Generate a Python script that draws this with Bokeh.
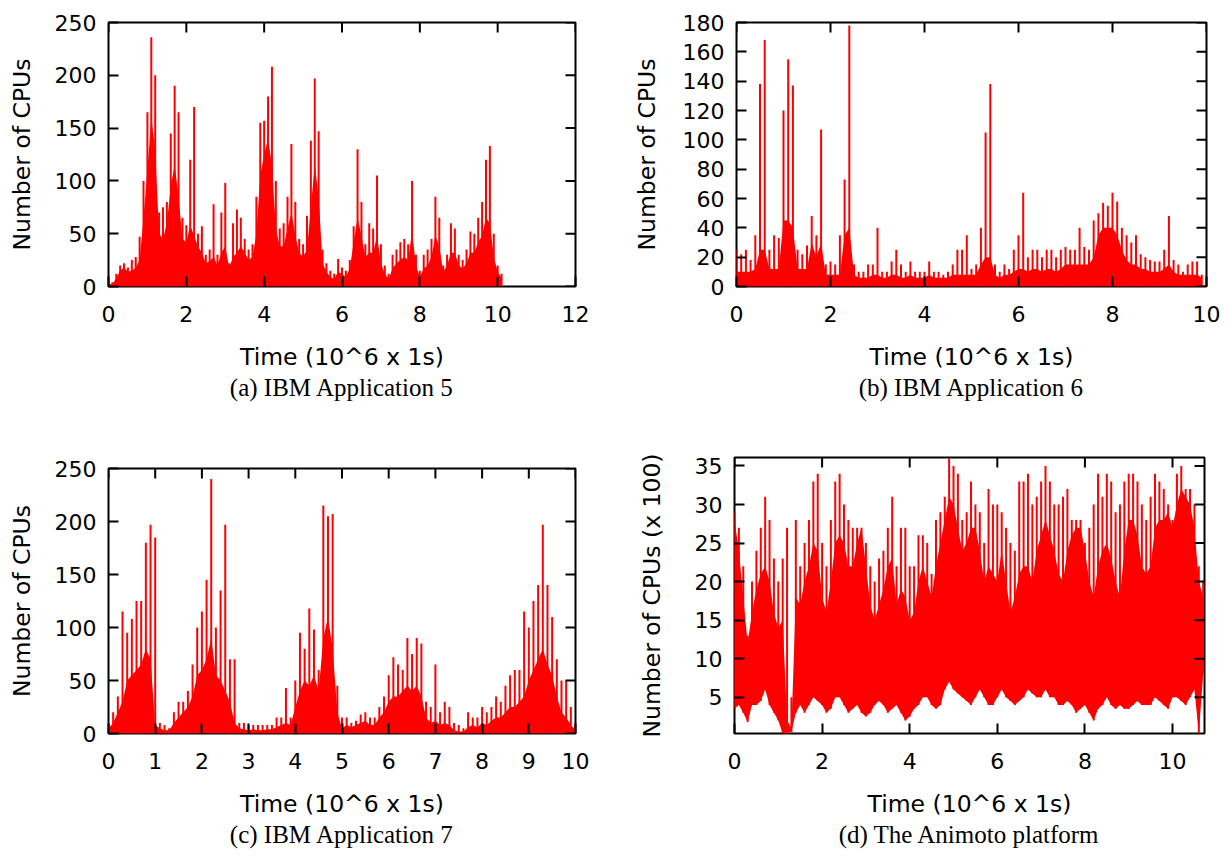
import math
from bokeh.plotting import figure
from bokeh.models import FixedTicker, Range1d, Title, ColumnDataSource
from bokeh.layouts import column, row
from bokeh.embed import file_html
from bokeh.resources import INLINE

RED = "#ff0000"
SANS = "DejaVu Sans"
SERIF = "Liberation Serif"

# ---------------- data ----------------
# (a) IBM Application 5 : time step 0.1 (x 10^6 s), 0.0 .. 10.1
time_a = [round(i * 0.1, 1) for i in range(102)]
peak_a = [6, 4, 12, 20, 22, 18, 25, 28, 47, 100,
          165, 236, 200, 70, 75, 80, 145, 190, 165, 65,
          58, 120, 170, 50, 57, 30, 35, 78, 30, 70,
          98, 22, 60, 73, 65, 45, 35, 40, 85, 155,
          157, 180, 208, 100, 55, 60, 85, 135, 80, 45,
          40, 67, 138, 197, 147, 35, 22, 15, 12, 26,
          18, 15, 25, 57, 130, 80, 40, 60, 55, 105,
          40, 20, 12, 30, 35, 42, 45, 40, 100, 30,
          15, 30, 35, 45, 85, 65, 20, 30, 60, 55,
          30, 25, 35, 52, 50, 65, 80, 120, 133, 50,
          20, 12]
body_a = [3, 2, 8, 15, 18, 14, 15, 18, 25, 65,
          110, 160, 130, 50, 45, 60, 95, 115, 85, 45,
          42, 58, 48, 38, 32, 22, 24, 28, 20, 32,
          38, 18, 28, 32, 38, 32, 25, 28, 50, 105,
          125, 140, 115, 55, 38, 38, 55, 70, 48, 32,
          28, 35, 75, 115, 85, 22, 14, 9, 7, 14,
          12, 9, 17, 42, 65, 48, 28, 32, 32, 48,
          22, 12, 7, 17, 22, 25, 28, 25, 52, 20,
          9, 17, 20, 28, 48, 38, 14, 20, 32, 32,
          20, 17, 22, 32, 32, 42, 48, 65, 60, 28,
          14, 8]

# (b) IBM Application 6 : 0.0 .. 9.9
time_b = [round(i * 0.1, 1) for i in range(100)]
peak_b = [25, 22, 25, 18, 35, 138, 168, 25, 35, 33,
          120, 155, 137, 25, 22, 28, 48, 35, 107, 15,
          17, 15, 35, 73, 178, 15, 10, 10, 15, 15,
          40, 10, 10, 17, 25, 15, 10, 17, 10, 10,
          10, 17, 10, 10, 8, 10, 15, 25, 25, 35,
          12, 15, 40, 105, 138, 15, 10, 15, 12, 25,
          35, 64, 20, 25, 25, 20, 25, 25, 20, 25,
          27, 25, 25, 40, 27, 25, 45, 50, 57, 55,
          64, 58, 40, 35, 30, 35, 22, 20, 18, 17,
          17, 25, 48, 18, 15, 10, 15, 17, 17, 8]
body_b = [10, 10, 10, 10, 12, 25, 25, 12, 12, 12,
          45, 45, 40, 12, 12, 12, 30, 20, 30, 8,
          8, 8, 8, 35, 40, 8, 6, 6, 6, 8,
          8, 6, 6, 8, 8, 6, 6, 8, 6, 6,
          6, 8, 6, 6, 6, 6, 8, 8, 8, 8,
          8, 8, 15, 20, 20, 8, 6, 8, 8, 10,
          12, 12, 10, 12, 12, 10, 12, 12, 10, 12,
          15, 15, 15, 15, 15, 15, 20, 35, 40, 40,
          40, 35, 25, 18, 15, 15, 12, 12, 10, 10,
          10, 12, 15, 10, 8, 8, 8, 8, 8, 6]

# (c) IBM Application 7 : 0.0 .. 10.0
time_c = [round(i * 0.1, 1) for i in range(101)]
peak_c = [10, 20, 35, 115, 95, 108, 125, 125, 180, 197,
          185, 10, 8, 5, 20, 30, 30, 40, 65, 100,
          115, 145, 240, 100, 135, 197, 70, 70, 10, 10,
          8, 8, 8, 8, 8, 8, 15, 15, 43, 15,
          50, 95, 80, 118, 98, 60, 215, 205, 207, 45,
          15, 15, 10, 12, 18, 20, 15, 15, 25, 35,
          55, 72, 65, 60, 90, 75, 90, 85, 30, 25,
          65, 20, 30, 25, 10, 8, 5, 20, 15, 15,
          25, 20, 25, 35, 30, 45, 55, 60, 60, 115,
          100, 125, 140, 197, 140, 110, 70, 50, 50, 25,
          10]
body_c = [5, 10, 20, 30, 50, 55, 60, 65, 80, 70,
          8, 5, 3, 3, 10, 15, 20, 25, 35, 55,
          60, 70, 90, 55, 50, 40, 30, 10, 5, 4,
          3, 4, 3, 3, 4, 4, 6, 8, 10, 8,
          25, 40, 50, 45, 55, 40, 90, 110, 80, 20,
          5, 8, 6, 8, 10, 12, 8, 8, 15, 20,
          30, 35, 35, 40, 45, 40, 45, 35, 15, 10,
          12, 8, 10, 8, 3, 2, 2, 6, 8, 6,
          10, 8, 12, 15, 15, 20, 25, 25, 30, 35,
          50, 60, 70, 80, 65, 55, 35, 20, 15, 8,
          3]

# (d) The Animoto platform (CPUs x 100) : 0.0 .. 10.7
time_d = [round(i * 0.1, 1) for i in range(108)]
peak_d = [29, 27, 22, 13, 20, 24, 27, 31, 28, 23,
          20, 23, 27, 5, 28, 22, 25, 28, 33, 34,
          25, 22, 28, 33, 34, 30, 28, 27, 27, 27,
          25, 22, 20, 23, 24, 27, 31, 22, 27, 27,
          22, 22, 26, 26, 25, 21, 28, 29, 31, 36,
          35, 34, 28, 29, 33, 30, 29, 25, 32, 30,
          30, 29, 27, 25, 24, 33, 33, 34, 30, 31,
          33, 35, 33, 30, 30, 31, 32, 28, 28, 28,
          25, 27, 30, 34, 31, 34, 33, 29, 30, 33,
          34, 34, 33, 30, 28, 31, 34, 33, 32, 30,
          28, 34, 35, 32, 32, 30, 22, 20]
mid_d = [28, 24, 18, 12, 16, 19, 21, 22, 20, 16,
         14, 15, 2, 1, 18, 17, 20, 22, 25, 24,
         18, 16, 20, 25, 26, 25, 22, 22, 25, 27,
         22, 17, 15, 17, 19, 22, 23, 17, 19, 18,
         15, 16, 20, 22, 20, 18, 22, 25, 28, 31,
         30, 27, 24, 25, 27, 27, 24, 20, 22, 21,
         20, 24, 20, 16, 18, 21, 22, 22, 20, 24,
         26, 28, 26, 24, 21, 20, 24, 26, 27, 27,
         24, 20, 18, 22, 24, 25, 23, 20, 18, 24,
         28, 28, 26, 22, 21, 22, 27, 28, 28, 29,
         27, 30, 32, 31, 30, 27, 20, 18]
low_d = [3.5, 4, 3, 1.8, 4, 4, 4.5, 6, 4, 3,
         2, 0.3, 0.3, 0.5, 3, 4, 3, 4, 5, 4.5,
         4, 3, 3.5, 5, 5, 4, 3, 3.5, 4, 3,
         2.5, 3, 4, 4.5, 4, 3, 3.5, 4, 3, 2,
         2.5, 3.5, 4, 5, 5, 4, 3.5, 4, 6, 7,
         6, 5.5, 5, 4.5, 4, 5, 6, 5, 4, 4,
         5, 6, 5, 4.5, 4, 4.5, 5, 6, 5.5, 5,
         5, 6, 5, 5, 4, 4, 4.5, 4, 3, 3.5,
         4, 3, 2, 3.5, 4, 5, 4, 3.5, 4, 3.5,
         3.5, 4, 4.5, 4, 4, 4, 5, 4.5, 4, 3.5,
         5, 5, 4.5, 4, 5, 6, 0.3, 8]

# ticks
xt_a = [0, 2, 4, 6, 8, 10, 12]
yt_a = [0, 50, 100, 150, 200, 250]
xt_b = [0, 2, 4, 6, 8, 10]
yt_b = [0, 20, 40, 60, 80, 100, 120, 140, 160, 180]
xt_c = [0, 1, 2, 3, 4, 5, 6, 7, 8, 9, 10]
yt_c = [0, 50, 100, 150, 200, 250]
xt_d = [0, 2, 4, 6, 8, 10]
yt_d = [5, 10, 15, 20, 25, 30, 35]

XLABEL = "Time (10^6 x 1s)"
TICK_PX = "22px"
LABEL_PX = "23.5px"


def style_axis(ax, ticks):
    ax.ticker = FixedTicker(ticks=ticks)
    ax.axis_line_color = None
    ax.major_tick_in = 10
    ax.major_tick_out = 0
    ax.major_tick_line_width = 2
    ax.major_tick_line_color = "black"
    ax.minor_tick_line_color = None
    ax.major_label_text_font = SANS
    ax.major_label_text_font_size = TICK_PX
    ax.major_label_text_color = "black"
    ax.axis_label_text_font = SANS
    ax.axis_label_text_font_size = LABEL_PX
    ax.axis_label_text_font_style = "normal"
    ax.axis_label_text_color = "black"


def panel(w, h, ml, mr, mt, mb, xr, yr, xt, yt, ylabel, ylab_standoff, caption,
          x, peak, body, low):
    p = figure(width=w, height=h, x_range=Range1d(*xr), y_range=Range1d(*yr),
               output_backend="svg", toolbar_location=None, title=None,
               min_border_left=ml, min_border_right=mr,
               min_border_top=mt, min_border_bottom=mb)
    p.grid.visible = False
    p.outline_line_color = "black"
    p.outline_line_width = 2
    p.background_fill_color = "white"
    p.border_fill_color = "white"

    src = ColumnDataSource(dict(x=x, peak=peak, body=body, low=low))
    p.varea(x="x", y1="low", y2="body", source=src, fill_color=RED)
    p.segment(x0="x", y0="low", x1="x", y1="peak", source=src,
              line_color=RED, line_width=2)

    # mirrored inward ticks on the top and right edges of the frame
    p.ray(x=xt, y=[yr[1]] * len(xt), length=10, length_units="screen",
          angle=-math.pi / 2, line_color="black", line_width=2)
    p.ray(x=[xr[1]] * len(yt), y=yt, length=10, length_units="screen",
          angle=math.pi, line_color="black", line_width=2)

    style_axis(p.xaxis[0], xt)
    style_axis(p.yaxis[0], yt)
    p.xaxis[0].axis_label = XLABEL
    p.yaxis[0].axis_label = ylabel
    p.xaxis[0].major_label_standoff = 19
    p.xaxis[0].axis_label_standoff = 18
    p.yaxis[0].major_label_standoff = 12
    p.yaxis[0].axis_label_standoff = ylab_standoff

    p.add_layout(Title(text=caption, align="center", text_font=SERIF,
                       text_font_size="25px", text_font_style="normal",
                       text_color="black", standoff=-4), "below")
    return p


pa = panel(623, 448, 108, 48, 22, 162, (0, 12), (0, 250), xt_a, yt_a,
           "Number of CPUs", 16, "(a) IBM Application 5",
           time_a, peak_a, body_a, [0] * len(time_a))
pb = panel(608, 448, 113, 25, 22, 162, (0, 10), (0, 180), xt_b, yt_b,
           "Number of CPUs", 19, "(b) IBM Application 6",
           time_b, peak_b, body_b, [0] * len(time_b))
pc = panel(623, 408, 108, 48, 20, 123, (0, 10), (0, 250), xt_c, yt_c,
           "Number of CPUs", 16, "(c) IBM Application 7",
           time_c, peak_c, body_c, [0] * len(time_c))
pd = panel(608, 408, 111, 27, 9, 123, (0, 10.73), (0.3, 36.1), xt_d, yt_d,
           "Number of CPUs (x 100)", 26, "(d) The Animoto platform",
           time_d, peak_d, mid_d, low_d)

layout = column(row(column(pa), column(pb)), row(column(pc), column(pd)))
open("out.html", "w").write(file_html(layout, INLINE))
